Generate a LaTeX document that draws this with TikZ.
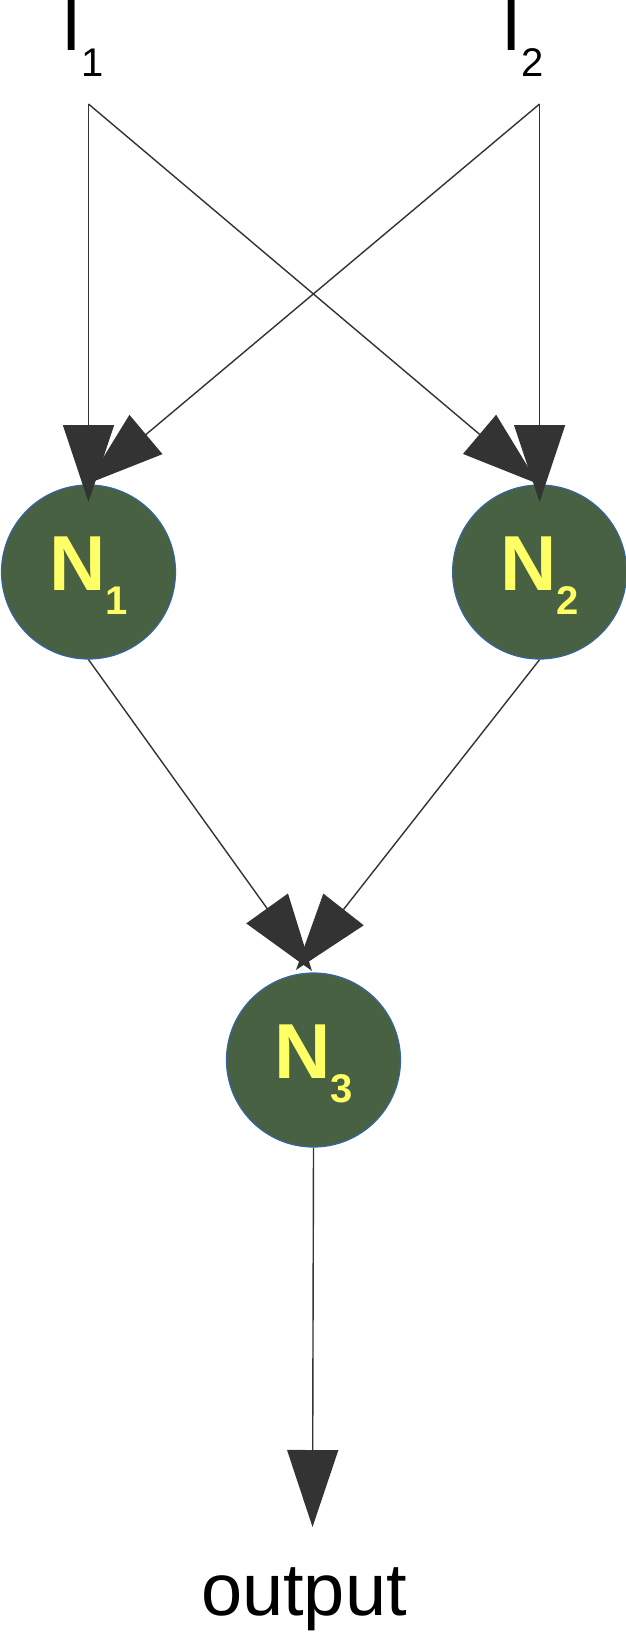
\documentclass[tikz,border=0pt]{standalone}
\usepackage{fontspec}
\setmainfont{Liberation Sans}
\usetikzlibrary{arrows.meta}
\definecolor{nodegreen}{RGB}{72,97,66}
\definecolor{nodeedge}{RGB}{52,101,164}
\definecolor{labyellow}{RGB}{255,255,102}
\definecolor{arrowgray}{RGB}{51,51,51}
\tikzset{
  neuron/.style={circle, minimum size=174pt, inner sep=0pt, fill=nodegreen, draw=nodeedge, line width=1.2pt,
    text=labyellow, font=\fontsize{78}{78}\selectfont\bfseries, text height=56pt, text depth=20pt},
  conn/.style={draw=arrowgray, line width=1.4pt, -{Triangle[length=77pt,width=51pt]}, arrowgray},
  inlabel/.style={anchor=base west, inner sep=0pt, font=\fontsize{73}{73}\selectfont}
}
\newcommand{\nsub}[1]{\raisebox{-24pt}{\fontsize{40}{40}\selectfont #1}}
\newcommand{\isub}[1]{\raisebox{-26pt}{\fontsize{40}{40}\selectfont #1}}
\begin{document}
\begin{tikzpicture}[x=1pt,y=-1pt]
\useasboundingbox (0,0) rectangle (625,1632);
\node[inlabel] (i1) at (61,51) {I\isub{1}};
\node[inlabel] (i2) at (501,51) {I\isub{2}};
\coordinate (i1s) at (88.5,104);
\coordinate (i2s) at (539.6,104);
\node[neuron] (n1) at (88.5,572) {N\nsub{1}};
\node[neuron] (n2) at (539.6,572) {N\nsub{2}};
\node[neuron] (n3) at (313.5,1060) {N\nsub{3}};
\node[anchor=base, inner sep=0pt, font=\fontsize{74}{74}\selectfont] (out) at (304,1615) {output};
\coordinate (e1v) at (88.5,502);
\coordinate (e1d) at (87,484);
\coordinate (e2v) at (539.6,502);
\coordinate (e2d) at (538.4,484);
\coordinate (e3l) at (312,971);
\coordinate (e3r) at (296,970);
\coordinate (eout) at (312.5,1527);
\draw[conn] (i1s) -- (e1v);
\draw[conn] (i2s) -- (e1d);
\draw[conn] (i1s) -- (e2d);
\draw[conn] (i2s) -- (e2v);
\draw[conn] (n1.south) -- (e3l);
\draw[conn] (n2.south) -- (e3r);
\draw[conn] (n3.south) -- (eout);
\end{tikzpicture}
\end{document}
